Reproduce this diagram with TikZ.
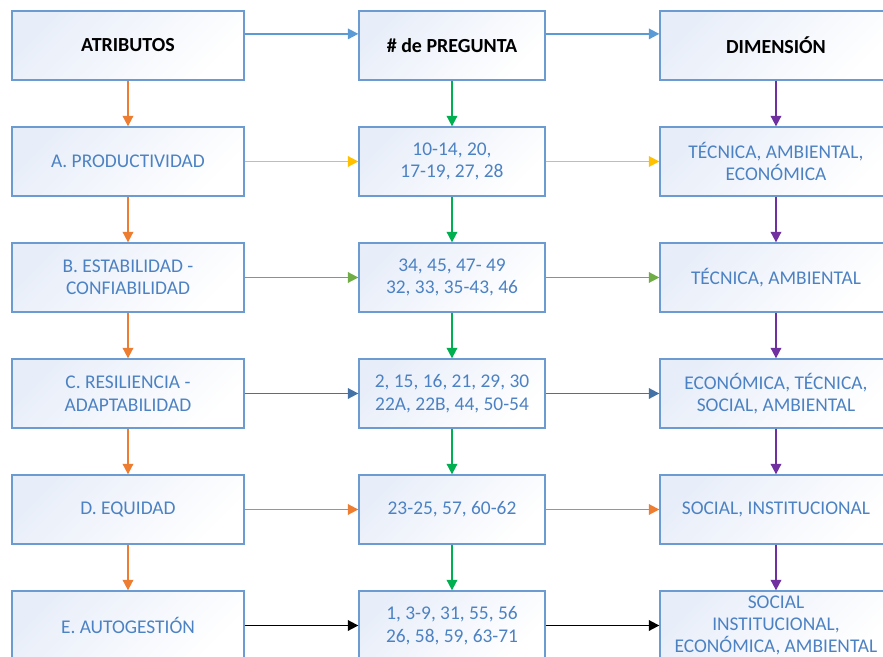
\documentclass[tikz,border=0pt]{standalone}
\usepackage{fontspec}
\setmainfont{Carlito}
\usetikzlibrary{arrows.meta}

\definecolor{boxline}{RGB}{108,155,210}
\definecolor{boxfill}{RGB}{232,238,249}
\definecolor{boxtext}{RGB}{76,130,195}
\definecolor{linkblue}{RGB}{91,155,213}
\definecolor{linkorange}{RGB}{237,125,49}
\definecolor{linkgreen}{RGB}{0,176,80}
\definecolor{linkpurple}{RGB}{112,48,160}
\definecolor{linkgold}{RGB}{255,192,0}
\definecolor{linklime}{RGB}{112,173,71}
\definecolor{linksteel}{RGB}{68,114,166}

\begin{document}
\begin{tikzpicture}[x=0.025cm, y=-0.025cm,
    box/.style={draw=boxline, line width=0.9pt, shading=axis, top color=boxfill,
        bottom color=white, shading angle=45, minimum width=5.8cm, minimum height=1.725cm,
        align=center, text=boxtext, inner sep=1.5pt, font=\fontsize{13.8}{16}\selectfont},
    midbox/.style={box, minimum width=4.65cm},
    head/.style={text=black, font=\fontsize{14.2}{16}\selectfont\bfseries},
    link/.style={line width=1.3pt, -{Triangle[length=7.5pt, width=7.5pt]}}]
    \clip (0,0) rectangle (883,657);

    % Header row
    \node[box, head] (attr) at (128,45.5) {ATRIBUTOS};
    \node[midbox, head] (preg) at (452,45.5) {\# de PREGUNTA};
    \node[box, head] (dim) at (776,45.5) {DIMENSIÓN};
    \draw[link, linkblue] ([yshift=0.29cm]attr.east) -- ([yshift=0.29cm]preg.west);
    \draw[link, linkblue] ([yshift=0.29cm]preg.east) -- ([yshift=0.29cm]dim.west);

    % A: productividad
    \node[box] (a1) at (128,161.5) {A. PRODUCTIVIDAD};
    \node[midbox] (p1) at (452,161.5) {10-14, 20,\\17-19, 27, 28};
    \node[box] (d1) at (776,161.5) {TÉCNICA, AMBIENTAL,\\ECONÓMICA};
    \draw[link, linkgold] (a1) -- (p1);
    \draw[link, linkgold] (p1) -- (d1);

    % B: estabilidad
    \node[box] (a2) at (128,277.5) {B. ESTABILIDAD -\\CONFIABILIDAD};
    \node[midbox] (p2) at (452,277.5) {34, 45, 47- 49\\32, 33, 35-43, 46};
    \node[box] (d2) at (776,277.5) {TÉCNICA, AMBIENTAL};
    \draw[link, linklime] (a2) -- (p2);
    \draw[link, linklime] (p2) -- (d2);

    % C: resiliencia
    \node[box] (a3) at (128,393.5) {C. RESILIENCIA -\\ADAPTABILIDAD};
    \node[midbox] (p3) at (452,393.5) {2, 15, 16, 21, 29, 30\\22A, 22B, 44, 50-54};
    \node[box] (d3) at (776,393.5) {ECONÓMICA, TÉCNICA,\\SOCIAL, AMBIENTAL};
    \draw[link, linksteel] (a3) -- (p3);
    \draw[link, linksteel] (p3) -- (d3);

    % D: equidad
    \node[box] (a4) at (128,509.5) {D. EQUIDAD};
    \node[midbox] (p4) at (452,509.5) {23-25, 57, 60-62};
    \node[box] (d4) at (776,509.5) {SOCIAL, INSTITUCIONAL};
    \draw[link, linkorange] (a4) -- (p4);
    \draw[link, linkorange] (p4) -- (d4);

    % E: autogestion
    \node[box] (a5) at (128,625.5) {E. AUTOGESTIÓN};
    \node[midbox] (p5) at (452,625.5) {1, 3-9, 31, 55, 56\\26, 58, 59, 63-71};
    \node[box, inner ysep=0pt, font=\fontsize{13.8}{15.6}\selectfont] (d5) at (776,625.5)
        {SOCIAL\\INSTITUCIONAL,\\ECONÓMICA, AMBIENTAL};
    \draw[link, black] (a5) -- (p5);
    \draw[link, black] (p5) -- (d5);

    % Vertical links
    \draw[link, linkorange] (attr) -- (a1);
    \draw[link, linkorange] (a1) -- (a2);
    \draw[link, linkorange] (a2) -- (a3);
    \draw[link, linkorange] (a3) -- (a4);
    \draw[link, linkorange] (a4) -- (a5);
    \draw[link, linkgreen] (preg) -- (p1);
    \draw[link, linkgreen] (p1) -- (p2);
    \draw[link, linkgreen] (p2) -- (p3);
    \draw[link, linkgreen] (p3) -- (p4);
    \draw[link, linkgreen] (p4) -- (p5);
    \draw[link, linkpurple] (dim) -- (d1);
    \draw[link, linkpurple] (d1) -- (d2);
    \draw[link, linkpurple] (d2) -- (d3);
    \draw[link, linkpurple] (d3) -- (d4);
    \draw[link, linkpurple] (d4) -- (d5);
\end{tikzpicture}
\end{document}
